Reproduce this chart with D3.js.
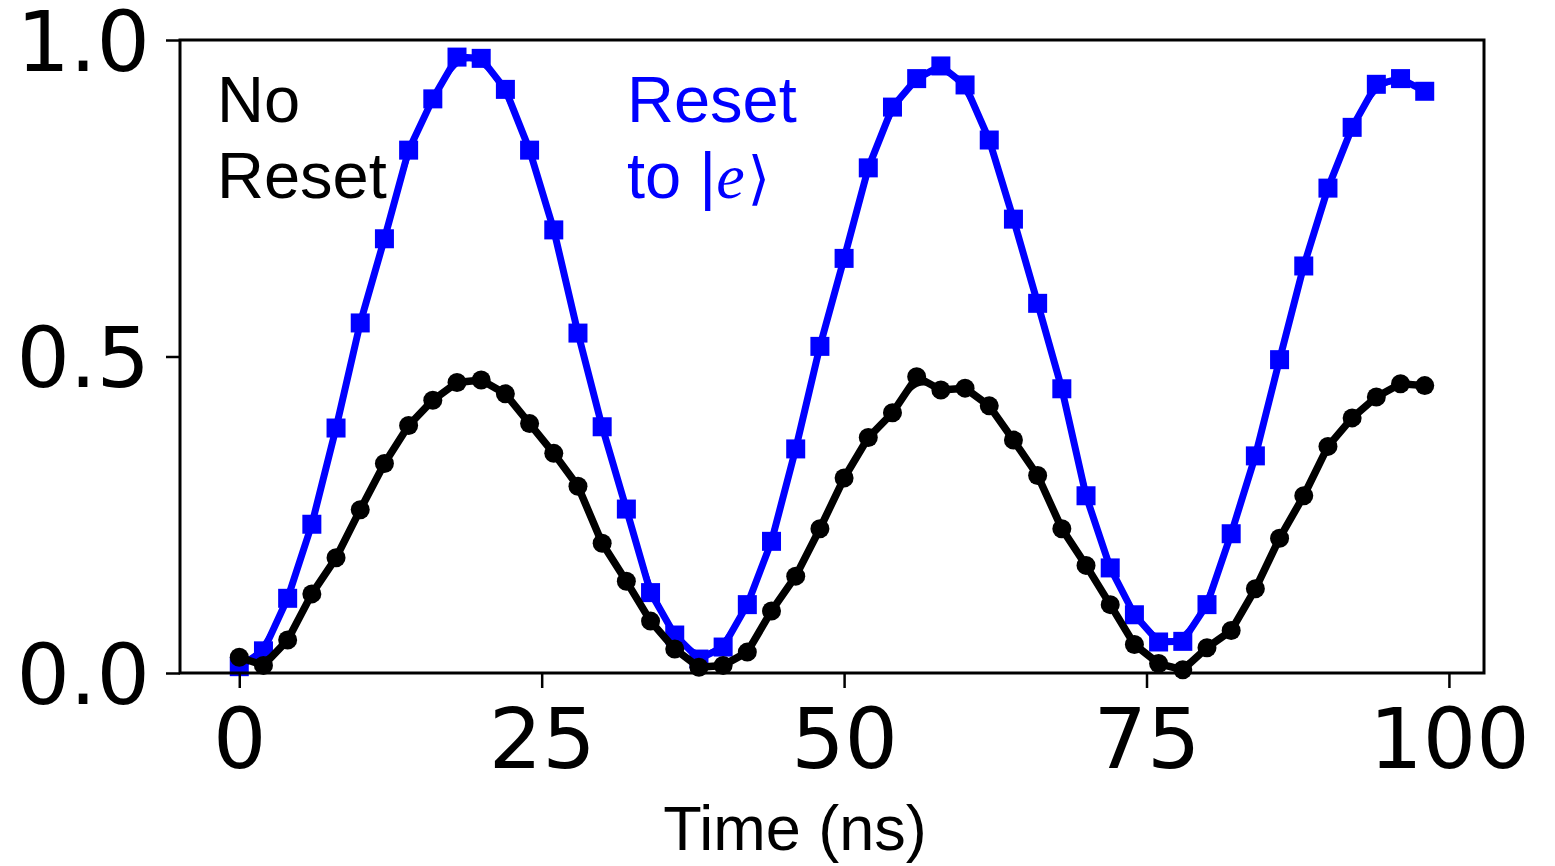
<!DOCTYPE html>
<html>
<head>
<meta charset="utf-8">
<script src="https://cdn.jsdelivr.net/npm/d3@7/dist/d3.min.js"></script>
<style>
  body { margin: 0; background: #fff; }
  svg { display: block; font-family: "Liberation Sans", Arial, sans-serif; }
</style>
</head>
<body>
<div id="chart"></div>
<script>
'use strict';

// time in ns, one sample every 2 ns
var times = [0, 2, 4, 6, 8, 10, 12, 14, 16, 18, 20, 22, 24, 26, 28, 30, 32, 34, 36, 38,
  40, 42, 44, 46, 48, 50, 52, 54, 56, 58, 60, 62, 64, 66, 68, 70, 72, 74, 76, 78,
  80, 82, 84, 86, 88, 90, 92, 94, 96, 98];

// reset to |e>
var resetValues = [0.01, 0.035, 0.118, 0.235, 0.387, 0.553, 0.686, 0.826, 0.907, 0.973,
  0.971, 0.922, 0.826, 0.700, 0.537, 0.389, 0.259, 0.127, 0.060, 0.022,
  0.041, 0.108, 0.208, 0.354, 0.516, 0.655, 0.798, 0.894, 0.939, 0.959,
  0.929, 0.842, 0.717, 0.584, 0.449, 0.280, 0.166, 0.092, 0.049, 0.050,
  0.108, 0.220, 0.343, 0.495, 0.643, 0.766, 0.862, 0.930, 0.939, 0.919];

// no reset
var noResetValues = [0.025, 0.012, 0.052, 0.125, 0.182, 0.258, 0.331, 0.391, 0.431, 0.459,
  0.463, 0.441, 0.394, 0.347, 0.295, 0.205, 0.145, 0.082, 0.038, 0.009,
  0.012, 0.033, 0.098, 0.153, 0.228, 0.308, 0.372, 0.411, 0.468, 0.447,
  0.450, 0.422, 0.368, 0.312, 0.228, 0.170, 0.108, 0.045, 0.015, 0.005,
  0.040, 0.067, 0.133, 0.213, 0.280, 0.358, 0.403, 0.436, 0.457, 0.454];

var xTicks = [0, 25, 50, 75, 100];
var yTicks = [0, 0.5, 1.0];

var width = 1555, height = 866;
var margin = {left: 180, right: 1484, top: 40, bottom: 673};

var svg = d3.select('#chart').append('svg')
  .attr('width', width)
  .attr('height', height);

var x = d3.scaleLinear().domain([-4.9, 102.9]).range([margin.left, margin.right]);
var y = d3.scaleLinear().domain([0, 1]).range([margin.bottom, margin.top]);

var blueData = times.map(function(t, i) { return {t: t, v: resetValues[i]}; });
var blackData = times.map(function(t, i) { return {t: t, v: noResetValues[i]}; });

var line = d3.line()
  .x(function(d) { return x(d.t); })
  .y(function(d) { return y(d.v); });
var smooth = d3.line()
  .curve(d3.curveBasis)
  .x(function(d) { return x(d.t); })
  .y(function(d) { return y(d.v); });

var plot = svg.append('g');

//blue series
plot.append('path').datum(blueData)
  .attr('d', smooth).attr('fill', 'none')
  .attr('stroke', '#0000ff').attr('stroke-width', 4);
plot.append('path').datum(blueData)
  .attr('d', line).attr('fill', 'none')
  .attr('stroke', '#0000ff').attr('stroke-width', 7)
  .attr('stroke-linejoin', 'round');
plot.selectAll('rect.sq').data(blueData).enter().append('rect')
  .attr('class', 'sq')
  .attr('x', function(d) { return x(d.t) - 9.5; })
  .attr('y', function(d) { return y(d.v) - 9.5; })
  .attr('width', 19).attr('height', 19)
  .attr('fill', '#0000ff');

//black series
plot.append('path').datum(blackData)
  .attr('d', smooth).attr('fill', 'none')
  .attr('stroke', '#000').attr('stroke-width', 4);
plot.append('path').datum(blackData)
  .attr('d', line).attr('fill', 'none')
  .attr('stroke', '#000').attr('stroke-width', 7.5)
  .attr('stroke-linejoin', 'round');
plot.selectAll('circle.dot').data(blackData).enter().append('circle')
  .attr('class', 'dot')
  .attr('cx', function(d) { return x(d.t); })
  .attr('cy', function(d) { return y(d.v); })
  .attr('r', 9.5)
  .attr('fill', '#000');

// axes
var xAxis = d3.axisBottom(x).tickValues(xTicks).tickSize(15).tickPadding(20)
  .tickFormat(d3.format('d'));
var yAxis = d3.axisLeft(y).tickValues(yTicks).tickSize(14).tickPadding(16)
  .tickFormat(d3.format('.1f'));

var gx = svg.append('g').attr('transform', 'translate(0,' + margin.bottom + ')').call(xAxis);
var gy = svg.append('g').attr('transform', 'translate(' + margin.left + ',0)').call(yAxis);
[gx, gy].forEach(function(g) {
  g.select('.domain').remove();
  g.selectAll('.tick line').attr('stroke', '#000').attr('stroke-width', 2.5);
  g.selectAll('.tick text').attr('fill', '#000')
    .style('font-family', '"DejaVu Sans", sans-serif')
    .style('font-size', '84px');
});
gy.selectAll('.tick text').attr('dy', '0.36em');

// frame
svg.append('rect')
  .attr('x', margin.left).attr('y', margin.top)
  .attr('width', margin.right - margin.left).attr('height', margin.bottom - margin.top)
  .attr('fill', 'none').attr('stroke', '#000').attr('stroke-width', 3);

svg.append('text')
  .attr('x', 795).attr('y', 850)
  .attr('text-anchor', 'middle')
  .style('font-size', '63px')
  .text('Time (ns)');

// labels
var lab1 = svg.append('text').style('font-size', '65px').attr('fill', '#000');
lab1.append('tspan').attr('x', 217).attr('y', 122).text('No');
lab1.append('tspan').attr('x', 217).attr('y', 198).text('Reset');

var lab2 = svg.append('text').style('font-size', '65px').attr('fill', '#0000ff');
lab2.append('tspan').attr('x', 627).attr('y', 122).text('Reset');
lab2.append('tspan').attr('x', 627).attr('y', 198).text('to |');
lab2.append('tspan').style('font-family', '"Liberation Serif", serif').style('font-style', 'italic')
  .style('font-size', '64px').text('e');
lab2.append('tspan').style('font-family', '"DejaVu Sans", sans-serif').style('font-size', '58px')
  .attr('dx', 3).text('\u27E9');
</script>
</body>
</html>
